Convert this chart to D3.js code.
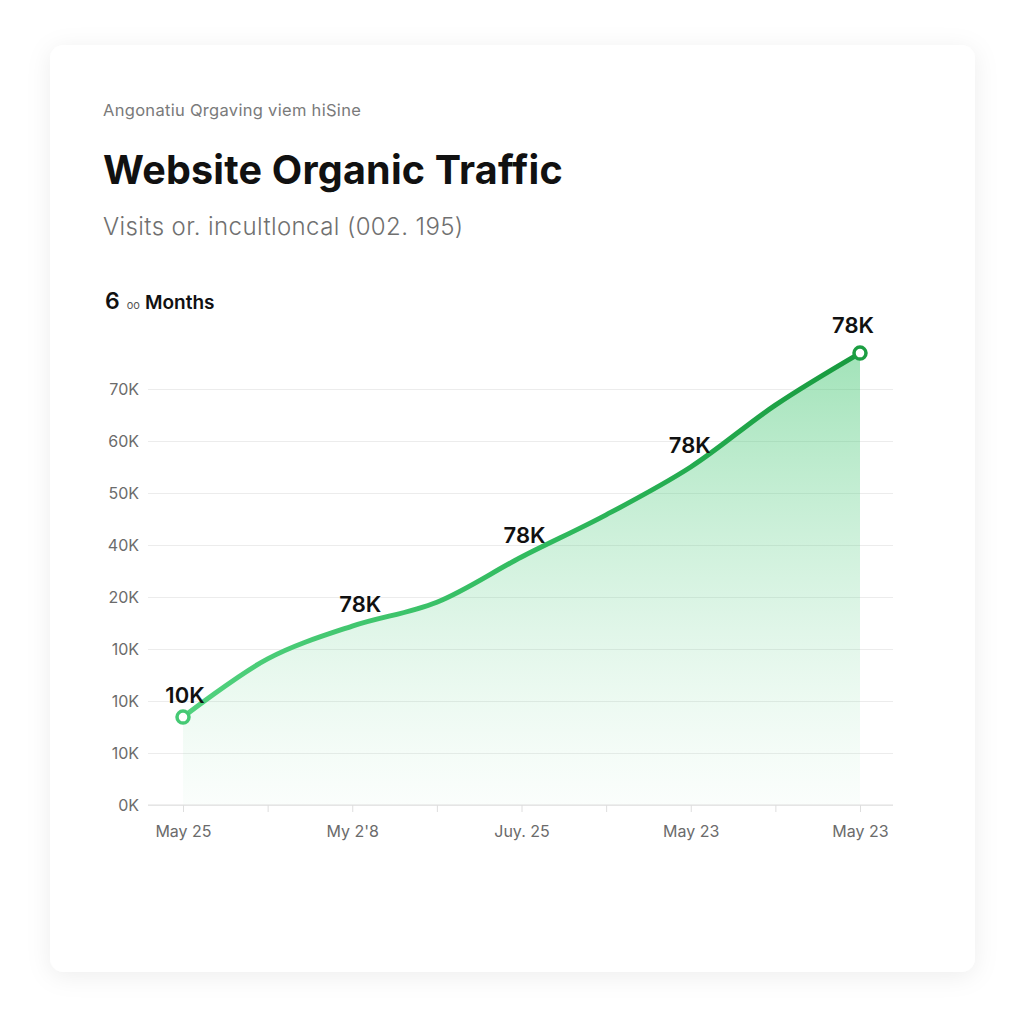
<!DOCTYPE html>
<html>
<head>
<meta charset="utf-8">
<script src="https://cdn.jsdelivr.net/npm/d3@7"></script>
<style>
  html, body { margin: 0; padding: 0; background: #ffffff; }
  svg { display: block; font-family: Inter, "Noto Sans", sans-serif; }
</style>
</head>
<body>
<div id="vis"></div>
<script>
// chart values
const months = ['May 25', '', "My 2'8", '', 'Juy. 25', '', 'May 23', '', 'May 23']
const visits = [16.9, 28.1, 34.4, 39.0, 47.7, 55.8, 65.0, 76.9, 86.9]
const yTickLabels = ['0K', '10K', '10K', '10K', '20K', '40K', '50K', '60K', '70K']
const pointLabels = ['10K', '', '78K', '', '78K', '', '78K', '', '78K']

const dataset = visits.map((v, i) => ({i: i, value: v, month: months[i], label: pointLabels[i]}))

const W = 1024, H = 1024

let svg = d3.select('#vis').append('svg')
    .attr('width', W)
    .attr('height', H)

let defs = svg.append('defs')

// soft card shadow
let shadow = defs.append('filter').attr('id', 'shadow')
    .attr('x', '-10%').attr('y', '-10%').attr('width', '120%').attr('height', '120%')
shadow.append('feDropShadow')
    .attr('dx', 0).attr('dy', 4).attr('stdDeviation', 12)
    .attr('flood-color', '#000').attr('flood-opacity', 0.07)

svg.append('rect')
    .attr('x', 50).attr('y', 45)
    .attr('width', 925).attr('height', 927)
    .attr('rx', 14)
    .attr('fill', '#fff')
    .attr('filter', 'url(#shadow)')

// header texts
svg.append('text')
    .attr('x', 103).attr('y', 116)
    .attr('font-size', 16.5).attr('fill', '#7a7a7a')
    .attr('letter-spacing', 0.3)
    .text('Angonatiu Qrgaving viem hiSine')

svg.append('text')
    .attr('x', 103).attr('y', 184)
    .attr('font-size', 39.5).attr('font-weight', 700).attr('fill', '#111')
    .attr('letter-spacing', 0.2)
    .text('Website Organic Traffic')

svg.append('text')
    .attr('x', 103).attr('y', 235)
    .attr('font-size', 24).attr('font-weight', 300).attr('fill', '#707070')
    .attr('letter-spacing', 0.4)
    .text('Visits or. incultloncal (002. 195)')

let months6 = svg.append('text')
    .attr('x', 105).attr('y', 309)
    .attr('fill', '#111').attr('font-weight', 600)
months6.append('tspan').attr('font-size', 23).text('6')
months6.append('tspan').attr('font-size', 11).attr('font-weight', 400).attr('fill', '#555').attr('dx', 7).text('oo')
months6.append('tspan').attr('font-size', 19).attr('dx', 5).text('Months')

// scales
const xScale = d3.scaleLinear([0, dataset.length - 1], [183, 860])
// evenly spaced y ticks, 10K units apart on the plot
const yScale = d3.scaleLinear([0, 80], [805, 389])
const gridLeft = 148, gridRight = 893

// gridlines + y labels
let yAxis = d3.axisLeft(yScale)
    .tickValues(yTickLabels.map((d, i) => i * 10))
    .tickFormat((d, i) => yTickLabels[i])
    .tickSize(-(gridRight - gridLeft))
    .tickPadding(9)

svg.append('g')
    .attr('transform', `translate(${gridLeft}, 0)`)
    .call(yAxis)
    .call(g => g.select('.domain').remove())
    .call(g => g.selectAll('.tick line').attr('stroke', '#ececec').attr('stroke-width', 1))
    .call(g => g.selectAll('.tick text')
        .attr('fill', '#6b6b6b').attr('font-size', 16).attr('font-family', 'Inter, sans-serif'))

// area + line gradients
let areaGrad = defs.append('linearGradient').attr('id', 'areaGrad')
    .attr('gradientUnits', 'userSpaceOnUse')
    .attr('x1', 0).attr('y1', 352).attr('x2', 0).attr('y2', 805)
areaGrad.append('stop').attr('offset', '0%').attr('stop-color', '#3cc46c').attr('stop-opacity', 0.48)
areaGrad.append('stop').attr('offset', '60%').attr('stop-color', '#5fd08a').attr('stop-opacity', 0.2)
areaGrad.append('stop').attr('offset', '100%').attr('stop-color', '#8fe0ad').attr('stop-opacity', 0.04)

let lineGrad = defs.append('linearGradient').attr('id', 'lineGrad')
    .attr('gradientUnits', 'userSpaceOnUse')
    .attr('x1', 183).attr('y1', 0).attr('x2', 860).attr('y2', 0)
lineGrad.append('stop').attr('offset', '0%').attr('stop-color', '#52d27f')
lineGrad.append('stop').attr('offset', '55%').attr('stop-color', '#2fb95d')
lineGrad.append('stop').attr('offset', '100%').attr('stop-color', '#179a3e')

let area = d3.area()
    .x(d => xScale(d.i))
    .y0(yScale(0))
    .y1(d => yScale(d.value))
    .curve(d3.curveCatmullRom.alpha(0.5))

let line = d3.line()
    .x(d => xScale(d.i))
    .y(d => yScale(d.value))
    .curve(d3.curveCatmullRom.alpha(0.5))

svg.append('path')
    .datum(dataset)
    .attr('d', area)
    .attr('fill', 'url(#areaGrad)')

// x axis
let xAxis = d3.axisBottom(xScale)
    .tickValues(dataset.map(d => d.i))
    .tickFormat((d, i) => months[i])
    .tickSize(7)
    .tickPadding(14)

svg.append('g')
    .attr('transform', `translate(0, ${yScale(0)})`)
    .call(xAxis)
    .call(g => g.select('.domain').remove())
    .call(g => g.selectAll('.tick line').attr('stroke', '#dedede'))
    .call(g => g.selectAll('.tick text')
        .attr('fill', '#6b6b6b').attr('font-size', 16).attr('font-family', 'Inter, sans-serif'))

svg.append('line')
    .attr('x1', gridLeft).attr('x2', gridRight)
    .attr('y1', yScale(0)).attr('y2', yScale(0))
    .attr('stroke', '#dedede')

svg.append('path')
    .datum(dataset)
    .attr('d', line)
    .attr('fill', 'none')
    .attr('stroke', 'url(#lineGrad)')
    .attr('stroke-width', 5)
    .attr('stroke-linecap', 'round')

// end markers
let ends = [dataset[0], dataset[dataset.length - 1]]
svg.selectAll('circle.end')
    .data(ends)
    .enter()
    .append('circle')
        .attr('class', 'end')
        .attr('cx', d => xScale(d.i))
        .attr('cy', d => yScale(d.value))
        .attr('r', 6)
        .attr('fill', '#fff')
        .attr('stroke', (d, i) => i === 0 ? '#45c974' : '#1c9e42')
        .attr('stroke-width', 3.5)

// point labels
const lastI = dataset.length - 1
const labelShift = {0: 2, 2: 8, 4: 3, 6: -1, 8: -7}
svg.selectAll('text.pt')
    .data(dataset.filter(d => d.label !== ''))
    .enter()
    .append('text')
        .attr('class', 'pt')
        .attr('x', d => xScale(d.i) + labelShift[d.i])
        .attr('y', d => yScale(d.value) - (d.i === lastI ? 20 : 14))
        .attr('text-anchor', 'middle')
        .attr('font-size', 22)
        .attr('font-weight', 600)
        .attr('fill', '#111')
        .text(d => d.label)
</script>
</body>
</html>
